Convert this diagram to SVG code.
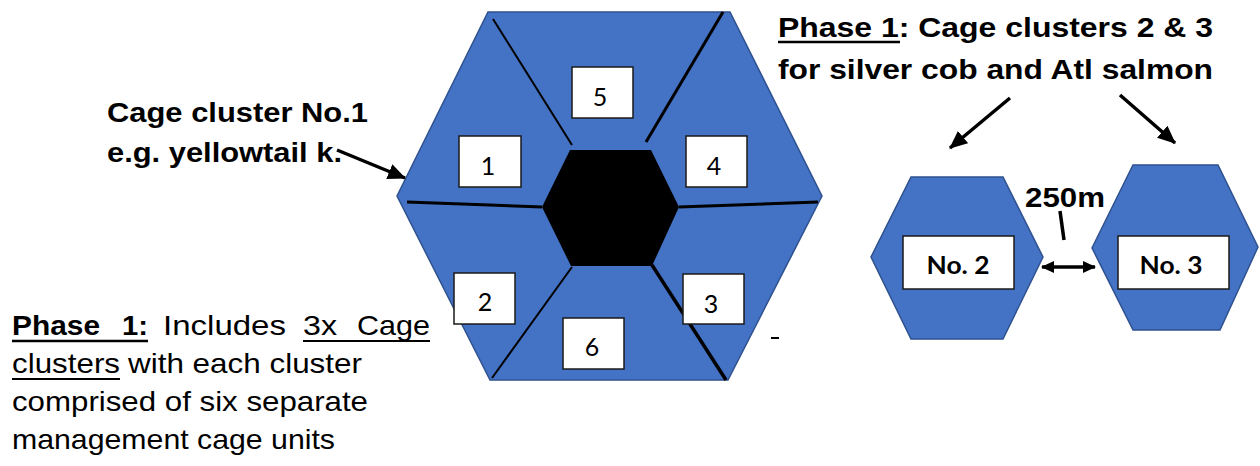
<svg xmlns="http://www.w3.org/2000/svg" width="1260" height="466" viewBox="0 0 1260 466">
<style>
.hex{fill:#4472C4;stroke:#2F528F;stroke-width:1.5}
.div{stroke:#000;fill:none}
.box{fill:#fff;stroke:#1a1a1a;stroke-width:1.5}
.num{font-family:Lato,"Liberation Sans",sans-serif;font-size:25px;fill:#000;text-anchor:middle}
.lbl{font-family:Lato,"Liberation Sans",sans-serif;font-size:24px;font-weight:bold;fill:#000;text-anchor:middle}
.b{font-family:"Liberation Sans",Arial,sans-serif;font-size:28px;font-weight:bold;fill:#000}
.r{font-family:"Liberation Sans",Arial,sans-serif;font-size:28px;fill:#000}
.ul{stroke:#000;fill:none}
.arr{stroke:#000;stroke-width:3.5;fill:none}
</style>
<defs>
<marker id="ah" markerUnits="userSpaceOnUse" markerWidth="18" markerHeight="16" refX="17" refY="8" orient="auto">
<path d="M0,0 L18,8 L0,16 Z" fill="#000"/>
</marker>
<marker id="ahs" markerUnits="userSpaceOnUse" markerWidth="13" markerHeight="12" refX="12" refY="6" orient="auto-start-reverse">
<path d="M0,0 L13,6 L0,12 Z" fill="#000"/>
</marker>
</defs>

<g id="cluster1">
<polygon class="hex" points="488,12 730,12 822,196 728,380 490,380 397,196"/>
<polygon points="570,150 651,150 679,207 652,266 571,266 542,207" fill="#000"/>
<line class="div" x1="493" y1="19" x2="572" y2="145" stroke-width="2"/>
<line class="div" x1="723" y1="12" x2="646" y2="142" stroke-width="3"/>
<line class="div" x1="407" y1="202" x2="542" y2="207" stroke-width="3"/>
<line class="div" x1="679" y1="207" x2="818" y2="202" stroke-width="3"/>
<line class="div" x1="572" y1="267" x2="492" y2="378" stroke-width="2"/>
<line class="div" x1="652" y1="265" x2="726" y2="380" stroke-width="3.5"/>
<g id="unit5"><rect class="box" x="572" y="67" width="61" height="51"/><text class="num" x="600" y="106">5</text></g>
<g id="unit1"><rect class="box" x="459" y="136" width="62" height="51"/><text class="num" x="488" y="175">1</text></g>
<g id="unit4"><rect class="box" x="686" y="136" width="61" height="51"/><text class="num" x="714" y="175">4</text></g>
<g id="unit2"><rect class="box" x="454" y="273" width="61" height="51"/><text class="num" x="485" y="311">2</text></g>
<g id="unit3"><rect class="box" x="683" y="274" width="61" height="50"/><text class="num" x="711" y="313">3</text></g>
<g id="unit6"><rect class="box" x="563" y="318" width="61" height="51"/><text class="num" x="592" y="356">6</text></g>
</g>
<rect x="771" y="337" width="8" height="2" fill="#000"/>

<g id="cluster2">
<polygon class="hex" points="911,177 1003,177 1043,257 1003,339 911,339 871,257"/>
<rect class="box" x="903" y="236" width="111" height="53" stroke-width="2"/>
<text class="lbl" x="958" y="274" textLength="63" lengthAdjust="spacingAndGlyphs">No. 2</text>
</g>
<g id="cluster3">
<polygon class="hex" points="1133,165 1218,165 1258,247 1220,330 1133,330 1092,248"/>
<rect class="box" x="1118" y="236" width="111" height="53" stroke-width="2"/>
<text class="lbl" x="1171" y="274" textLength="63" lengthAdjust="spacingAndGlyphs">No. 3</text>
</g>

<g id="label-cluster1">
<text class="b" x="107" y="122" textLength="261" lengthAdjust="spacingAndGlyphs">Cage cluster No.1</text>
<text class="b" x="107" y="162" textLength="235" lengthAdjust="spacingAndGlyphs">e.g. yellowtail k.</text>
</g>
<g id="label-phase-right">
<text class="b" x="778" y="37" textLength="435" lengthAdjust="spacingAndGlyphs">Phase 1: Cage clusters 2 &amp; 3</text>
<line class="ul" x1="778" y1="42" x2="900" y2="42" stroke-width="2.5"/>
<text class="b" x="778" y="79" textLength="435" lengthAdjust="spacingAndGlyphs">for silver cob and Atl salmon</text>
</g>
<g id="label-250m">
<text class="b" x="1025" y="207" font-size="30" textLength="80" lengthAdjust="spacingAndGlyphs">250m</text>
</g>
<g id="label-phase-left">
<text class="b" x="12" y="335" textLength="88" lengthAdjust="spacingAndGlyphs">Phase</text>
<text class="b" x="122" y="335" textLength="26" lengthAdjust="spacingAndGlyphs">1:</text>
<line class="ul" x1="12" y1="341" x2="148" y2="341" stroke-width="2.5"/>
<text class="r" x="163" y="335" textLength="123" lengthAdjust="spacingAndGlyphs">Includes</text>
<text class="r" x="303" y="335" textLength="34" lengthAdjust="spacingAndGlyphs">3x</text>
<text class="r" x="357" y="335" textLength="73" lengthAdjust="spacingAndGlyphs">Cage</text>
<line class="ul" x1="303" y1="341" x2="430" y2="341" stroke-width="2"/>
<text class="r" x="12" y="373" textLength="108" lengthAdjust="spacingAndGlyphs">clusters</text>
<line class="ul" x1="12" y1="379" x2="120" y2="379" stroke-width="2"/>
<text class="r" x="128" y="373" textLength="234" lengthAdjust="spacingAndGlyphs">with each cluster</text>
<text class="r" x="12" y="411" textLength="356" lengthAdjust="spacingAndGlyphs">comprised of six separate</text>
<text class="r" x="12" y="449" textLength="323" lengthAdjust="spacingAndGlyphs">management cage units</text>
</g>

<g id="connectors">
<line class="arr" x1="337" y1="150" x2="405" y2="178" stroke-width="3" marker-end="url(#ah)"/>
<line class="arr" x1="1010" y1="98" x2="950" y2="148" marker-end="url(#ah)"/>
<line class="arr" x1="1120" y1="95" x2="1175" y2="143" marker-end="url(#ah)"/>
<line class="arr" x1="1060" y1="211" x2="1064" y2="240" stroke-width="2"/>
<line class="arr" x1="1042" y1="267" x2="1095" y2="267" stroke-width="2.5" marker-start="url(#ahs)" marker-end="url(#ahs)"/>
</g>
</svg>
